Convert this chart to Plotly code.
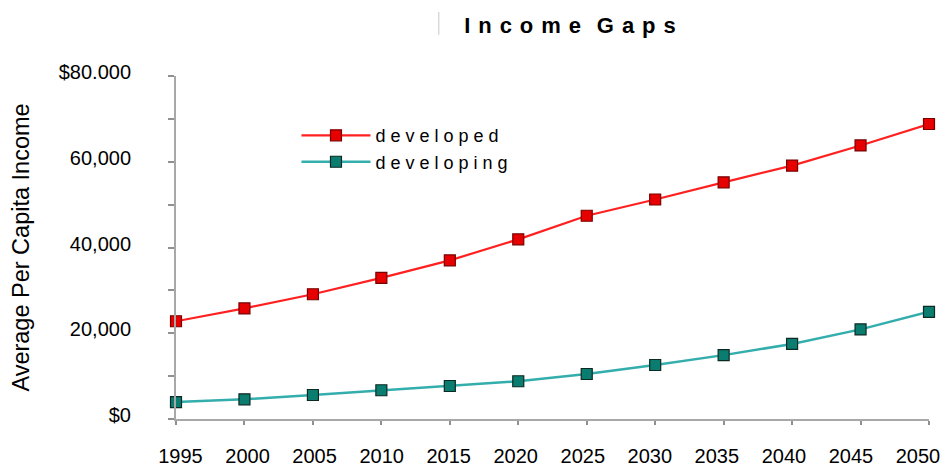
import plotly.graph_objects as go

years = [1995, 2000, 2005, 2010, 2015, 2020, 2025, 2030, 2035, 2040, 2045, 2050]
developed = [22800, 25800, 29100, 32900, 37000, 41900, 47400, 51200, 55200, 59100, 63800, 68800]
developing = [3950, 4600, 5600, 6700, 7700, 8800, 10500, 12600, 14900, 17500, 20900, 25000]

y_tickvals = [0, 10000, 20000, 30000, 40000, 50000, 60000, 70000, 80000]
y_ticktext = ["$0", "", "20,000", "", "40,000", "", "60,000", "", "$80.000"]
x_ticktext = [str(y) for y in years]


def spaced(word, sep=" "):
    return sep.join(word)


FONT = "Liberation Sans, Arial, sans-serif"

fig = go.Figure()
fig.add_trace(go.Scatter(
    x=years, y=developed, mode="lines+markers", name=spaced("developed"),
    line=dict(color="#ff2020", width=2.2),
    marker=dict(symbol="square", size=11, color="#e60000",
                line=dict(color="#7a0000", width=1.2)),
    cliponaxis=False, legendgroup="a",
))
fig.add_trace(go.Scatter(
    x=years, y=developing, mode="lines+markers", name=spaced("developing"),
    line=dict(color="#34adad", width=2.5),
    marker=dict(symbol="square", size=11, color="#0b7d70",
                line=dict(color="#0a2a22", width=1.2)),
    cliponaxis=False, legendgroup="b",
))
# empty trace that binds the year-label axis so it gets drawn
fig.add_trace(go.Scatter(
    x=[years[0], years[-1]], y=[None, None], xaxis="x2", yaxis="y",
    mode="markers", showlegend=False, hoverinfo="skip",
))

fig.update_layout(
    width=946, height=468,
    margin=dict(l=176, r=16.5, t=76, b=49, autoexpand=False),
    paper_bgcolor="white", plot_bgcolor="white",
    font=dict(family=FONT, color="black"),
    title=dict(text="<b>" + spaced("Income", " \u200a") + " \u200a \u200a" + spaced("Gaps", " \u200a") + "</b>",
               x=0.6025, xanchor="center", y=0.947, yanchor="middle",
               font=dict(size=22, family=FONT, color="black")),
    showlegend=True,
    legend=dict(x=0.160, y=0.880, xanchor="left", yanchor="top",
                bgcolor="rgba(0,0,0,0)", font=dict(size=18, family=FONT),
                tracegroupgap=0, traceorder="grouped", itemwidth=69),
    # axis carrying ticks and line
    xaxis=dict(range=[1995, 2050], tickvals=years, showticklabels=False,
               showgrid=False, zeroline=False, automargin=False,
               showline=True, linecolor="#a8a8a8", linewidth=2,
               ticks="outside", ticklen=4, tickcolor="#909090", tickwidth=1.5),
    # companion axis carrying the year labels, spaced slightly tighter
    xaxis2=dict(overlaying="x", anchor="y", side="bottom", automargin=False,
                range=[1994.665, 2050.82], tickvals=years, ticktext=x_ticktext,
                showgrid=False, zeroline=False, showline=False, ticks="",
                ticklabelstandoff=23,
                tickfont=dict(size=20, family=FONT, color="black")),
    yaxis=dict(range=[0, 80000], tickvals=y_tickvals, ticktext=y_ticktext,
               showgrid=False, zeroline=False, automargin=False,
               showline=True, linecolor="#a8a8a8", linewidth=2,
               ticks="outside", ticklen=6, tickcolor="#909090", tickwidth=1.5,
               ticklabelstandoff=33, ticklabelshift=-4,
               tickfont=dict(size=20, family=FONT, color="black"),
               title=dict(text="Average Per Capita Income", standoff=22,
                          font=dict(size=23.5, family=FONT, color="black"))),
    shapes=[dict(type="line", xref="paper", yref="paper",
                 x0=0.349, x1=0.349, y0=1.12, y1=1.187,
                 line=dict(color="#c8c8c8", width=1))],
)

fig.write_html("out.html")
